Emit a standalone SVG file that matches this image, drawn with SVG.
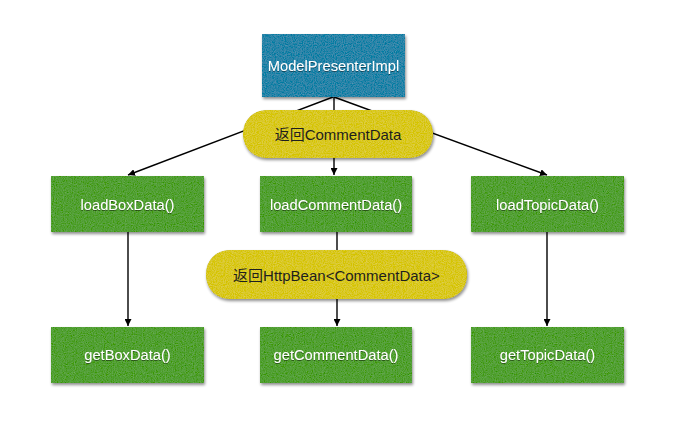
<svg xmlns="http://www.w3.org/2000/svg" width="692" height="448" viewBox="0 0 692 448">
  <style>
    .lbl { font-family: "Liberation Sans", "Noto Sans CJK SC", sans-serif; font-size: 14.7px; text-anchor: middle; dominant-baseline: central; }
    .light { fill: #ffffff; filter: url(#txtShadow); }
    .dark { fill: #1e1e1e; font-size: 15px; }
    .blue { fill: #2b84a8; filter: url(#grain); }
    .green { fill: #52a035; filter: url(#grain); }
    .yellow { fill: #d9c825; filter: url(#grain); }
    .conn { stroke: #000; stroke-width: 1.4; fill: none; marker-end: url(#arrow); }
  </style>
  <defs>
    <marker id="arrow" viewBox="0 0 10 10" refX="10" refY="5" markerWidth="7" markerHeight="7" markerUnits="userSpaceOnUse" orient="auto">
      <path d="M0,0 L10,5 L0,10 z" fill="#000"/>
    </marker>
    <!-- speckled fill texture plus a soft drop shadow -->
    <filter id="grain" x="-10%" y="-20%" width="120%" height="150%">
      <feTurbulence type="fractalNoise" baseFrequency="0.9" numOctaves="2" seed="3" result="noise"/>
      <feColorMatrix in="noise" type="matrix" values="0.33 0.33 0.33 0 0  0.33 0.33 0.33 0 0  0.33 0.33 0.33 0 0  0 0 0 0 1" result="gray"/>
      <feComposite in="SourceGraphic" in2="gray" operator="arithmetic" k1="0" k2="1" k3="0.28" k4="-0.14" result="tex"/>
      <feComposite in="tex" in2="SourceGraphic" operator="in" result="clip"/>
      <feGaussianBlur in="SourceAlpha" stdDeviation="1.6" result="blur"/>
      <feOffset in="blur" dx="1" dy="2" result="off"/>
      <feComponentTransfer in="off" result="shadow">
        <feFuncA type="linear" slope="0.45"/>
      </feComponentTransfer>
      <feMerge>
        <feMergeNode in="shadow"/>
        <feMergeNode in="clip"/>
      </feMerge>
    </filter>
    <filter id="txtShadow" x="-10%" y="-30%" width="120%" height="160%">
      <feDropShadow dx="0" dy="1" stdDeviation="0.6" flood-color="#000" flood-opacity="0.45"/>
    </filter>
  </defs>

  <rect width="692" height="448" fill="#ffffff"/>

  <g id="connectors">
    <line class="conn" x1="333" y1="97" x2="128" y2="175"/>
    <line class="conn" x1="334" y1="97" x2="334" y2="175"/>
    <line class="conn" x1="334" y1="97" x2="547" y2="175"/>
    <line class="conn" x1="128" y1="232" x2="128" y2="326"/>
    <line class="conn" x1="337" y1="232" x2="337" y2="326"/>
    <line class="conn" x1="547" y1="232" x2="547" y2="326"/>
  </g>

  <g id="modelPresenterImpl">
    <rect class="blue" x="262" y="34" width="143" height="63"/>
    <text class="lbl light" x="333.5" y="66">ModelPresenterImpl</text>
  </g>

  <g id="returnCommentData">
    <rect class="yellow" x="243" y="110" width="190" height="48" rx="23"/>
    <text class="lbl dark" x="338" y="134">返回CommentData</text>
  </g>

  <g id="loadBoxData">
    <rect class="green" x="51" y="176" width="153" height="56"/>
    <text class="lbl light" x="127.5" y="205">loadBoxData()</text>
  </g>

  <g id="loadCommentData">
    <rect class="green" x="260" y="176" width="152" height="56"/>
    <text class="lbl light" x="336" y="205">loadCommentData()</text>
  </g>

  <g id="loadTopicData">
    <rect class="green" x="471" y="176" width="153" height="56"/>
    <text class="lbl light" x="547.5" y="205">loadTopicData()</text>
  </g>

  <g id="returnHttpBean">
    <rect class="yellow" x="206" y="250" width="261" height="49" rx="23"/>
    <text class="lbl dark" x="336.5" y="275">返回HttpBean&lt;CommentData&gt;</text>
  </g>

  <g id="getBoxData">
    <rect class="green" x="51" y="327" width="153" height="56"/>
    <text class="lbl light" x="127.5" y="355">getBoxData()</text>
  </g>

  <g id="getCommentData">
    <rect class="green" x="260" y="327" width="152" height="56"/>
    <text class="lbl light" x="336" y="355">getCommentData()</text>
  </g>

  <g id="getTopicData">
    <rect class="green" x="471" y="327" width="153" height="56"/>
    <text class="lbl light" x="547.5" y="355">getTopicData()</text>
  </g>
</svg>
